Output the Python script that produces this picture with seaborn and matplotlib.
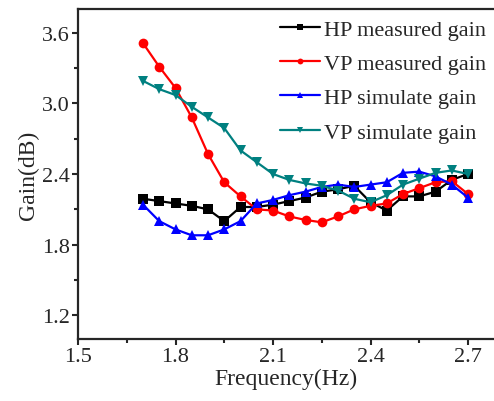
import numpy as np
import pandas as pd
import matplotlib
matplotlib.use("Agg")
import matplotlib.pyplot as plt
import seaborn as sns
from matplotlib.ticker import MultipleLocator

# frequency points
freq = [1.70, 1.75, 1.80, 1.85, 1.90, 1.95, 2.00, 2.05, 2.10, 2.15, 2.20,
        2.25, 2.30, 2.35, 2.40, 2.45, 2.50, 2.55, 2.60, 2.65, 2.70]

# gain values
hp_measured = [2.19, 2.17, 2.15, 2.13, 2.10, 2.00, 2.12, 2.12, 2.14, 2.17, 2.20,
               2.25, 2.27, 2.30, 2.16, 2.09, 2.21, 2.21, 2.25, 2.35, 2.40]
vp_measured = [3.51, 3.31, 3.13, 2.88, 2.57, 2.33, 2.21, 2.10, 2.09, 2.04, 2.01,
               1.99, 2.04, 2.10, 2.13, 2.15, 2.23, 2.28, 2.33, 2.34, 2.23]
hp_simulate = [2.14, 2.00, 1.93, 1.88, 1.88, 1.93, 2.00, 2.15, 2.18, 2.22, 2.25,
               2.29, 2.31, 2.29, 2.31, 2.33, 2.41, 2.42, 2.38, 2.31, 2.20]
vp_simulate = [3.19, 3.12, 3.07, 2.97, 2.88, 2.79, 2.60, 2.50, 2.40, 2.35, 2.32,
               2.30, 2.26, 2.19, 2.16, 2.22, 2.31, 2.36, 2.41, 2.43, 2.40]

series = [
    ("HP measured gain", hp_measured, "black", "s"),
    ("VP measured gain", vp_measured, "red", "o"),
    ("HP simulate gain", hp_simulate, "blue", "^"),
    ("VP simulate gain", vp_simulate, "#008080", "v"),
]

sns.set_style("ticks")
plt.rcParams["font.family"] = ["Liberation Serif", "DejaVu Serif"]

fig = plt.figure(figsize=(4.94, 4.02), dpi=100)
ax = fig.add_axes([78 / 494, 62 / 402, 1 - 78 / 494, (340 - 10) / 402])

for name, vals, color, mk in series:
    df = pd.DataFrame({"freq": freq, "gain": vals})
    sns.lineplot(data=df, x="freq", y="gain", ax=ax, color=color, marker=mk,
                 markersize=7, markeredgewidth=0, linewidth=1.6, label=name)

ax.set_xlim(1.5, 1.5 + (494 - 78) / 325)
ax.set_ylim(1.0, 3.8)
ax.xaxis.set_minor_locator(MultipleLocator(0.15))
ax.yaxis.set_minor_locator(MultipleLocator(0.3))
ax.set_xticks([1.5, 1.8, 2.1, 2.4, 2.7])
ax.set_xticklabels(["1.5", "1.8", "2.1", "2.4", "2.7"])
ax.set_yticks([1.2, 1.8, 2.4, 3.0, 3.6])
ax.set_yticklabels(["1.2", "1.8", "2.4", "3.0", "3.6"])

ax.tick_params(which="major", direction="out", length=4, width=1.5, labelsize=16, pad=2)
ax.tick_params(which="minor", direction="out", length=3, width=1.5)
for side in ["left", "bottom", "top"]:
    ax.spines[side].set_linewidth(1.6)
ax.spines["right"].set_visible(False)

ax.set_xlabel("Frequency(Hz)", fontsize=17, labelpad=1)
ax.set_ylabel("Gain(dB)", fontsize=17, labelpad=2)

ax.legend(loc="upper right", bbox_to_anchor=(1.005, 1.0), frameon=False,
          fontsize=16, handlelength=1.8, handletextpad=0.2,
          labelspacing=0.62, markerscale=0.6, borderaxespad=0.05)

fig.savefig("out.png", dpi=100)
